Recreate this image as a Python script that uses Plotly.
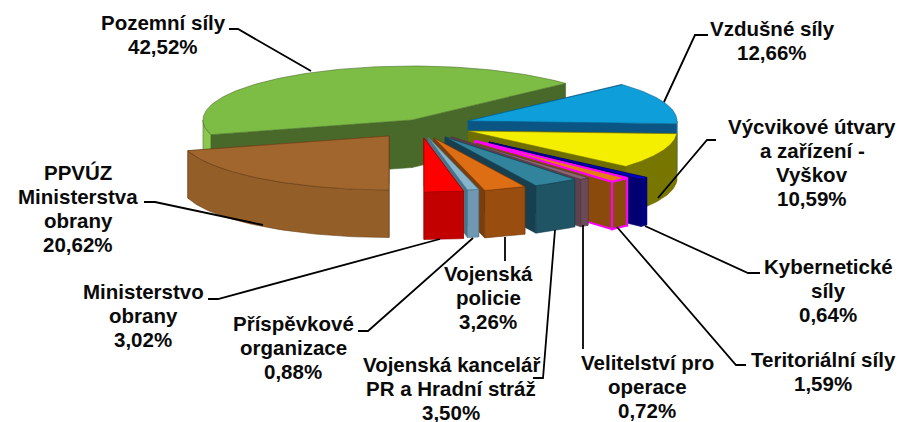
import numpy as np
import plotly.graph_objects as go

# --- data (pie order, clockwise) ---
names = [
    ["Vzdušné síly"],
    ["Výcvikové útvary", "a zařízení -", "Vyškov"],
    ["Kybernetické", "síly"],
    ["Teritoriální síly"],
    ["Velitelství pro", "operace"],
    ["Vojenská kancelář", "PR a Hradní stráž"],
    ["Vojenská", "policie"],
    ["Příspěvkové", "organizace"],
    ["Ministerstvo", "obrany"],
    ["PPVÚZ", "Ministerstva", "obrany"],
    ["Pozemní síly"],
]
values = [12.66, 10.59, 0.64, 1.59, 0.72, 3.50, 3.26, 0.88, 3.02, 20.62, 42.52]

# --- styling / layout ---
FIRST_ANGLE = 47.3
A, B, H = 209, 54, 47.5
LINE_STEP = 24
centers = [(468, 121), (468, 131), (489, 142), (475, 141), (451, 137), (445, 137),
           (434, 138), (428, 137), (424, 138), (389, 136), (412, 120)]
top_col = ["#0E9FDB", "#F4EE00", "#0000CC", "#E57E12", "#8A6872", "#31849B",
           "#DD6E14", "#86B4CC", "#FF0000", "#A0662E", "#7DBD45"]
side_col = ["#0B5F8C", "#767600", "#000080", "#8A4A0C", "#6B4A58", "#1F5464",
            "#994E10", "#7098B2", "#C30000", "#945E29", "#8CC850"]
wall_col = ["#0B5585", "#6E6E00", "#000070", "#8A4A0C", "#5E4250", "#173F50",
            "#7A3D0C", "#4C7385", "#A00000", "#7E4F22", "#48692A"]
edge_col = ["#0A5F8A", "#6E6E00", "#000070", "#FF00FF", "#553844", "#173F50",
            "#6E380C", "#4C7385", "#A00000", "#6B4218", "#4A6B2C"]
edge_w = [0.6, 0.6, 0.6, 2, 0.6, 0.6, 0.6, 0.6, 0.6, 0.6, 0.6]
text_xy = [(772, 40), (812, 162), (828, 290), (823, 371), (647, 386), (451, 388),
           (488, 297), (293, 347), (143, 315), (78, 208), (163, 34)]
leaders = [
    ([708, 695, 664], [35, 35, 102]),
    ([716, 707, 658], [140, 140, 198]),
    ([760, 748, 645], [273, 273, 226]),
    ([746, 736, 617], [365, 365, 227]),
    ([583, 583], [349, 225]),
    ([533, 543, 555], [378, 378, 230]),
    ([505, 505], [261, 237]),
    ([358, 368, 473], [331, 331, 238]),
    ([208, 218, 440], [299, 299, 239]),
    ([144, 155, 263], [202, 202, 225]),
    ([229, 238, 311], [29, 29, 71]),
]
FONT = dict(family="Liberation Sans, Arial, sans-serif", size=20.5, color="#0A0A0A")


def ell(c, t):
    t = np.radians(t)
    return c[0] + A * np.sin(t), c[1] - B * np.cos(t)


fig = go.Figure()


def poly(xs, ys, fill, line, w=0.6):
    fig.add_trace(go.Scatter(x=list(xs), y=list(ys), mode="lines", fill="toself",
                             fillcolor=fill, line=dict(color=line, width=w),
                             hoverinfo="skip", showlegend=False))


cum = np.cumsum([0] + values)
starts = FIRST_ANGLE + cum[:-1] * 3.6
ends = FIRST_ANGLE + cum[1:] * 3.6

# painter's order: back to front, green first
order = [10, 0, 1, 2, 3, 4, 5, 6, 7, 8, 9]
for i in order:
    c, s, e = centers[i], starts[i], ends[i]
    lc, lw = edge_col[i], edge_w[i]
    for ang in (s, e):
        px, py = ell(c, ang)
        poly([c[0], px, px, c[0], c[0]], [c[1], py, py + H, c[1] + H, c[1]], wall_col[i], lc, lw)
    lo, hi = max(s, 90), min(e, 270)
    if hi > lo:
        t = np.linspace(lo, hi, 50)
        ax, ay = ell(c, t)
        poly(np.r_[ax, ax[::-1], ax[0]], np.r_[ay, ay[::-1] + H, ay[0]], side_col[i], lc, lw)
    t = np.linspace(s, e, 120)
    ax, ay = ell(c, t)
    poly(np.r_[c[0], ax, c[0]], np.r_[c[1], ay, c[1]], top_col[i], lc, lw)

for lx, ly in leaders:
    fig.add_trace(go.Scatter(x=lx, y=ly, mode="lines", line=dict(color="#000000", width=1.8),
                             hoverinfo="skip", showlegend=False))

for nm, v, (tx, ty) in zip(names, values, text_xy):
    rows = nm + [f"{v:.2f}".replace(".", ",") + "%"]
    for k, row in enumerate(rows):
        fig.add_annotation(x=tx, y=ty + (k - (len(rows) - 1) / 2) * LINE_STEP,
                           text=f"<b>{row}</b>", showarrow=False,
                           xanchor="center", yanchor="middle", font=FONT)

fig.update_layout(
    width=901, height=422, margin=dict(l=0, r=0, t=0, b=0),
    paper_bgcolor="white", plot_bgcolor="white", showlegend=False,
    xaxis=dict(range=[0, 901], visible=False, fixedrange=True),
    yaxis=dict(range=[422, 0], visible=False, fixedrange=True),
)
fig.write_html("out.html", config=dict(displayModeBar=False),
               post_script="document.body.style.margin='0';document.documentElement.style.overflow='hidden';")
